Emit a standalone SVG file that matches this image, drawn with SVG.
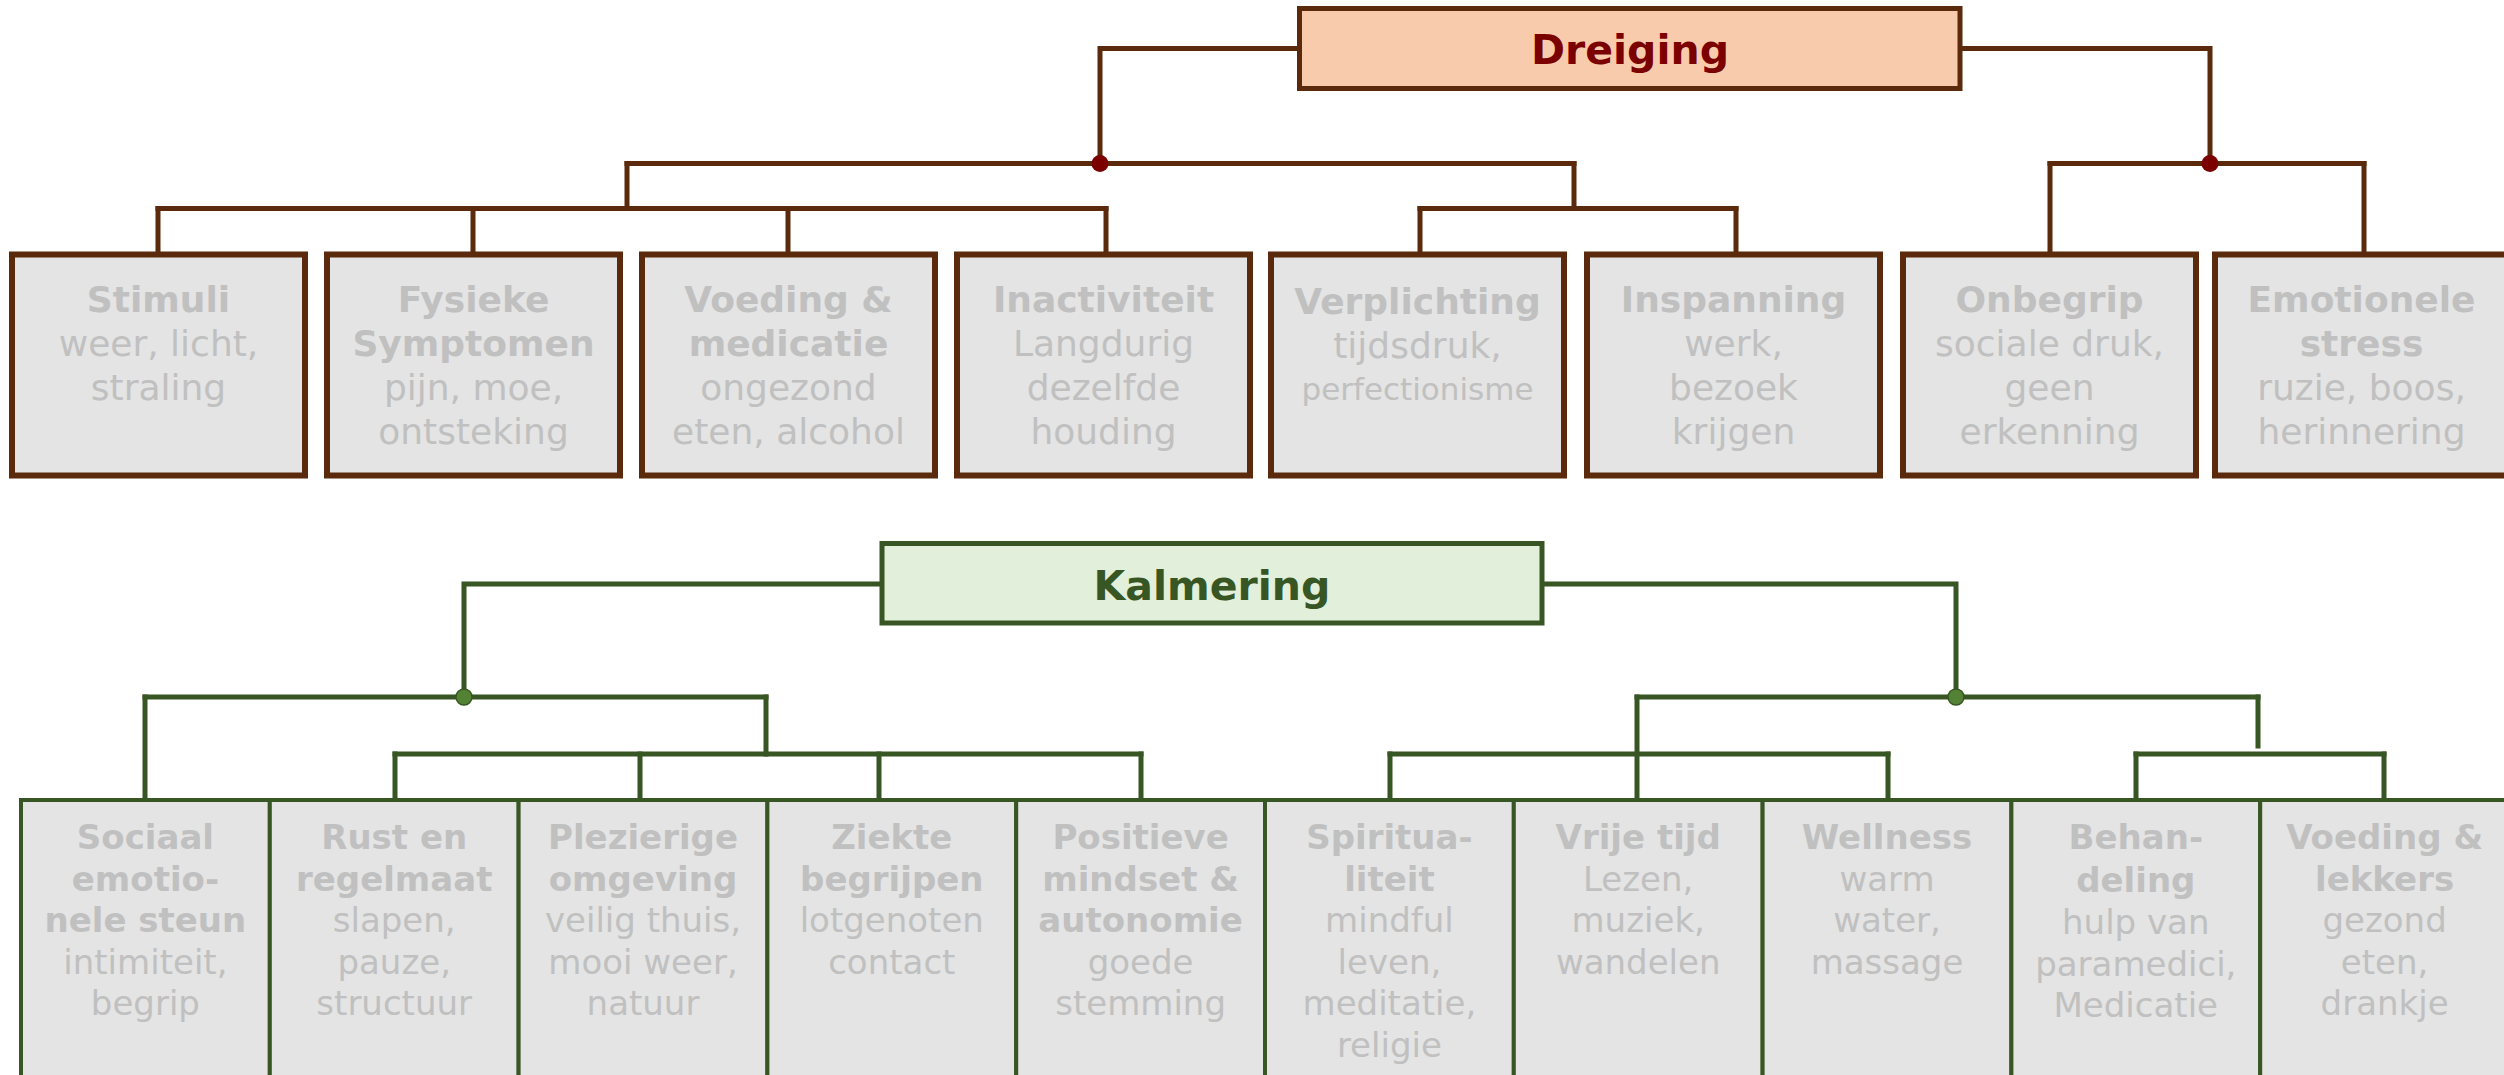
<svg xmlns="http://www.w3.org/2000/svg" width="2504" height="1075" viewBox="0 0 2504 1075">
  <style>
    text { font-family: "DejaVu Sans", Verdana, sans-serif; text-anchor: middle; }
    .bg { fill: #ffffff; }
    .head-threat { fill: #f8cbad; stroke: #5b2a0c; stroke-width: 5; }
    .head-calm { fill: #e2efda; stroke: #375623; stroke-width: 5; }
    .title-threat { font-size: 41px; font-weight: bold; fill: #7b0000; }
    .title-calm { font-size: 41px; font-weight: bold; fill: #375623; }
    .box-threat { fill: #e4e4e4; stroke: #5b2a0c; stroke-width: 6; }
    .box-calm { fill: #e4e4e4; stroke: #375623; stroke-width: 4; }
    .t-top { font-size: 36px; fill: #c0c0c0; }
    .t-bot { font-size: 34px; fill: #c0c0c0; }
    .b { font-weight: bold; }
    .small { font-size: 31px; }
    .wire-threat { fill: none; stroke: #5b2a0c; stroke-width: 5; stroke-linejoin: miter; stroke-linecap: square; }
    .wire-calm { fill: none; stroke: #375623; stroke-width: 5; stroke-linejoin: miter; stroke-linecap: square; }
    .dot-threat { fill: #7b0000; }
    .dot-calm { fill: #548235; stroke: #375623; stroke-width: 1.5; }
  </style>

  <rect class="bg" x="0" y="0" width="2504" height="1075"/>

  <!-- connectors -->
  <g id="connectors">
    <!-- Dreiging, left branch -->
    <path class="wire-threat" d="M1299.5,48.5 H1100 V163.5"/>
    <path class="wire-threat" d="M627,163.5 H1574"/>
    <path class="wire-threat" d="M627,163.5 V208.5"/>
    <path class="wire-threat" d="M158,208.5 H1106"/>
    <path class="wire-threat" d="M158,208.5 V254 M473,208.5 V254 M788,208.5 V254 M1106,208.5 V254"/>
    <path class="wire-threat" d="M1574,163.5 V208.5"/>
    <path class="wire-threat" d="M1420,208.5 H1736"/>
    <path class="wire-threat" d="M1420,208.5 V254 M1736,208.5 V254"/>
    <!-- Dreiging, right branch -->
    <path class="wire-threat" d="M1960,48.5 H2210 V163.5"/>
    <path class="wire-threat" d="M2050,163.5 H2364"/>
    <path class="wire-threat" d="M2050,163.5 V254 M2364,163.5 V254"/>
    <circle class="dot-threat" cx="1100" cy="163.5" r="8.5"/>
    <circle class="dot-threat" cx="2210" cy="163.5" r="8.5"/>

    <!-- Kalmering, left branch -->
    <path class="wire-calm" d="M882,584 H464 V697"/>
    <path class="wire-calm" d="M145,697 H766"/>
    <path class="wire-calm" d="M145,697 V799"/>
    <path class="wire-calm" d="M766,697 V754"/>
    <path class="wire-calm" d="M395,754 H1141"/>
    <path class="wire-calm" d="M395,754 V799 M640,754 V799 M879,754 V799 M1141,754 V799"/>
    <!-- Kalmering, right branch -->
    <path class="wire-calm" d="M1542,584 H1956 V697"/>
    <path class="wire-calm" d="M1637,697 H2258"/>
    <path class="wire-calm" d="M1637,697 V799"/>
    <path class="wire-calm" d="M2258,697 V746"/>
    <path class="wire-calm" d="M1390,754 H1888"/>
    <path class="wire-calm" d="M1390,754 V799 M1888,754 V799"/>
    <path class="wire-calm" d="M2136,754 H2384"/>
    <path class="wire-calm" d="M2136,754 V799 M2384,754 V799"/>
    <circle class="dot-calm" cx="464" cy="697" r="8"/>
    <circle class="dot-calm" cx="1956" cy="697" r="8"/>
  </g>

  <!-- heads -->
  <g id="dreiging">
    <rect class="head-threat" x="1299.5" y="8.5" width="660.5" height="80"/>
    <text class="title-threat" x="1630" y="64">Dreiging</text>
  </g>
  <g id="kalmering">
    <rect class="head-calm" x="882" y="543.5" width="660" height="79.5"/>
    <text class="title-calm" x="1212" y="600">Kalmering</text>
  </g>

  <!-- threat factors -->
  <g id="stimuli">
    <rect class="box-threat" x="12" y="254.5" width="293" height="221"/>
    <text class="t-top" x="158.5" y="312"><tspan class="b" x="158.5">Stimuli</tspan><tspan x="158.5" dy="44">weer, licht,</tspan><tspan x="158.5" dy="44">straling</tspan></text>
  </g>
  <g id="fysieke-symptomen">
    <rect class="box-threat" x="327" y="254.5" width="293" height="221"/>
    <text class="t-top" x="473.5" y="312"><tspan class="b" x="473.5">Fysieke</tspan><tspan class="b" x="473.5" dy="44">Symptomen</tspan><tspan x="473.5" dy="44">pijn, moe,</tspan><tspan x="473.5" dy="44">ontsteking</tspan></text>
  </g>
  <g id="voeding-medicatie">
    <rect class="box-threat" x="642" y="254.5" width="293" height="221"/>
    <text class="t-top" x="788.5" y="312"><tspan class="b" x="788.5">Voeding &amp;</tspan><tspan class="b" x="788.5" dy="44">medicatie</tspan><tspan x="788.5" dy="44">ongezond</tspan><tspan x="788.5" dy="44">eten, alcohol</tspan></text>
  </g>
  <g id="inactiviteit">
    <rect class="box-threat" x="957" y="254.5" width="293" height="221"/>
    <text class="t-top" x="1103.5" y="312"><tspan class="b" x="1103.5">Inactiviteit</tspan><tspan x="1103.5" dy="44">Langdurig</tspan><tspan x="1103.5" dy="44">dezelfde</tspan><tspan x="1103.5" dy="44">houding</tspan></text>
  </g>
  <g id="verplichting">
    <rect class="box-threat" x="1271" y="254.5" width="293" height="221"/>
    <text class="t-top" x="1417.5" y="314"><tspan class="b" x="1417.5">Verplichting</tspan><tspan x="1417.5" dy="44">tijdsdruk,</tspan><tspan class="small" x="1417.5" dy="42">perfectionisme</tspan></text>
  </g>
  <g id="inspanning">
    <rect class="box-threat" x="1587" y="254.5" width="293" height="221"/>
    <text class="t-top" x="1733.5" y="312"><tspan class="b" x="1733.5">Inspanning</tspan><tspan x="1733.5" dy="44">werk,</tspan><tspan x="1733.5" dy="44">bezoek</tspan><tspan x="1733.5" dy="44">krijgen</tspan></text>
  </g>
  <g id="onbegrip">
    <rect class="box-threat" x="1903" y="254.5" width="293" height="221"/>
    <text class="t-top" x="2049.5" y="312"><tspan class="b" x="2049.5">Onbegrip</tspan><tspan x="2049.5" dy="44">sociale druk,</tspan><tspan x="2049.5" dy="44">geen</tspan><tspan x="2049.5" dy="44">erkenning</tspan></text>
  </g>
  <g id="emotionele-stress">
    <rect class="box-threat" x="2215" y="254.5" width="293" height="221"/>
    <text class="t-top" x="2361.5" y="312"><tspan class="b" x="2361.5">Emotionele</tspan><tspan class="b" x="2361.5" dy="44">stress</tspan><tspan x="2361.5" dy="44">ruzie, boos,</tspan><tspan x="2361.5" dy="44">herinnering</tspan></text>
  </g>

  <!-- calming factors -->
  <g id="sociaal">
    <rect class="box-calm" x="21" y="800" width="248.8" height="290"/>
    <text class="t-bot" x="145.4" y="849"><tspan class="b" x="145.4">Sociaal</tspan><tspan class="b" x="145.4" dy="41.6">emotio-</tspan><tspan class="b" x="145.4" dy="41.6">nele steun</tspan><tspan x="145.4" dy="41.6">intimiteit,</tspan><tspan x="145.4" dy="41.6">begrip</tspan></text>
  </g>
  <g id="rust">
    <rect class="box-calm" x="269.8" y="800" width="248.8" height="290"/>
    <text class="t-bot" x="394.2" y="849"><tspan class="b" x="394.2">Rust en</tspan><tspan class="b" x="394.2" dy="41.6">regelmaat</tspan><tspan x="394.2" dy="41.6">slapen,</tspan><tspan x="394.2" dy="41.6">pauze,</tspan><tspan x="394.2" dy="41.6">structuur</tspan></text>
  </g>
  <g id="plezierige-omgeving">
    <rect class="box-calm" x="518.6" y="800" width="248.8" height="290"/>
    <text class="t-bot" x="643" y="849"><tspan class="b" x="643">Plezierige</tspan><tspan class="b" x="643" dy="41.6">omgeving</tspan><tspan x="643" dy="41.6">veilig thuis,</tspan><tspan x="643" dy="41.6">mooi weer,</tspan><tspan x="643" dy="41.6">natuur</tspan></text>
  </g>
  <g id="ziekte-begrijpen">
    <rect class="box-calm" x="767.4" y="800" width="248.8" height="290"/>
    <text class="t-bot" x="891.8" y="849"><tspan class="b" x="891.8">Ziekte</tspan><tspan class="b" x="891.8" dy="41.6">begrijpen</tspan><tspan x="891.8" dy="41.6">lotgenoten</tspan><tspan x="891.8" dy="41.6">contact</tspan></text>
  </g>
  <g id="positieve-mindset">
    <rect class="box-calm" x="1016.2" y="800" width="248.8" height="290"/>
    <text class="t-bot" x="1140.6" y="849"><tspan class="b" x="1140.6">Positieve</tspan><tspan class="b" x="1140.6" dy="41.6">mindset &amp;</tspan><tspan class="b" x="1140.6" dy="41.6">autonomie</tspan><tspan x="1140.6" dy="41.6">goede</tspan><tspan x="1140.6" dy="41.6">stemming</tspan></text>
  </g>
  <g id="spiritualiteit">
    <rect class="box-calm" x="1265" y="800" width="248.8" height="290"/>
    <text class="t-bot" x="1389.4" y="849"><tspan class="b" x="1389.4">Spiritua-</tspan><tspan class="b" x="1389.4" dy="41.6">liteit</tspan><tspan x="1389.4" dy="41.6">mindful</tspan><tspan x="1389.4" dy="41.6">leven,</tspan><tspan x="1389.4" dy="41.6">meditatie,</tspan><tspan x="1389.4" dy="41.6">religie</tspan></text>
  </g>
  <g id="vrije-tijd">
    <rect class="box-calm" x="1513.8" y="800" width="248.8" height="290"/>
    <text class="t-bot" x="1638.2" y="849"><tspan class="b" x="1638.2">Vrije tijd</tspan><tspan x="1638.2" dy="41.6">Lezen,</tspan><tspan x="1638.2" dy="41.6">muziek,</tspan><tspan x="1638.2" dy="41.6">wandelen</tspan></text>
  </g>
  <g id="wellness">
    <rect class="box-calm" x="1762.6" y="800" width="248.8" height="290"/>
    <text class="t-bot" x="1887" y="849"><tspan class="b" x="1887">Wellness</tspan><tspan x="1887" dy="41.6">warm</tspan><tspan x="1887" dy="41.6">water,</tspan><tspan x="1887" dy="41.6">massage</tspan></text>
  </g>
  <g id="behandeling">
    <rect class="box-calm" x="2011.4" y="800" width="248.8" height="290"/>
    <text class="t-bot" x="2135.8" y="849"><tspan class="b" x="2135.8">Behan-</tspan><tspan class="b" x="2135.8" dy="42.5">deling</tspan><tspan x="2135.8" dy="42.5">hulp van</tspan><tspan x="2135.8" dy="41.6">paramedici,</tspan><tspan x="2135.8" dy="41.6">Medicatie</tspan></text>
  </g>
  <g id="voeding-lekkers">
    <rect class="box-calm" x="2260.2" y="800" width="248.8" height="290"/>
    <text class="t-bot" x="2384.6" y="849"><tspan class="b" x="2384.6">Voeding &amp;</tspan><tspan class="b" x="2384.6" dy="41.6">lekkers</tspan><tspan x="2384.6" dy="41.6">gezond</tspan><tspan x="2384.6" dy="41.6">eten,</tspan><tspan x="2384.6" dy="41.6">drankje</tspan></text>
  </g>
</svg>
